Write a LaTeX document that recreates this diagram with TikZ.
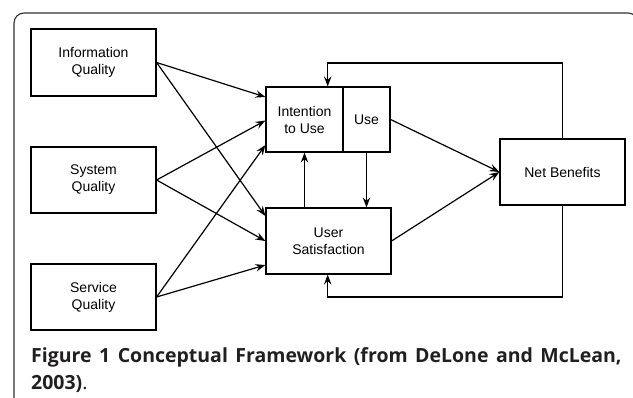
\documentclass[tikz,border=0pt]{standalone}
\usepackage{fontspec}
\setmainfont{Liberation Sans}
\newfontfamily\capfont{Open Sans}
\usetikzlibrary{arrows.meta}
\definecolor{captxt}{HTML}{231F20}
\begin{document}
\begin{tikzpicture}[x=1pt,y=-1pt,
  box/.style={draw,line width=1.2pt,inner sep=0pt,align=center,
    font=\fontsize{14}{17}\selectfont},
  arr/.style={line width=1.2pt,-{Stealth[length=10pt,width=7.5pt,inset=3.5pt]}},
  lin/.style={line width=1.2pt}]
\useasboundingbox (0,0) rectangle (633,397);
\draw[line width=1.1pt,color=black!80,rounded corners=10pt] (14,420) -- (14,13) -- (638,13) -- (638,420);
\node[box,minimum width=125pt,minimum height=67pt] (iq) at (93.5,62.5) {Information\\Quality};
\node[box,minimum width=125pt,minimum height=66pt] (sq) at (93.5,180) {System\\Quality};
\node[box,minimum width=125pt,minimum height=66pt] (svq) at (93.5,297) {Service\\Quality};
\node[box,minimum width=77pt,minimum height=65pt] (intent) at (304.5,119.5) {Intention\\to Use};
\node[box,minimum width=47pt,minimum height=65pt] (use) at (366.5,119.5) {Use};
\node[box,minimum width=125pt,minimum height=66pt] (us) at (328.5,241) {User\\Satisfaction};
\node[box,minimum width=125pt,minimum height=66pt] (nb) at (562.5,172) {Net Benefits};
% inputs
\draw[arr] (iq.east) -- ([yshift=22.5pt]intent.west);
\draw[arr] (iq.east) -- ([yshift=25pt]us.west);
\draw[arr] (sq.east) -- ([yshift=-1pt]intent.west);
\draw[arr] (sq.east) -- (us.west);
\draw[arr] (svq.east) -- ([yshift=-25.5pt]intent.west);
\draw[arr] (svq.east) -- ([yshift=-24pt]us.west);
% between
\draw[arr] (intent.south |- us.north) -- (intent.south);
\draw[arr] (use.south) -- (use.south |- us.north);
\draw[arr] (use.east) -- (nb.west);
\draw[arr] (us.east) -- (nb.west);
% feedback
\coordinate (ft) at (327.7,63);
\coordinate (fb) at (327.7,297);
\draw[arr] (nb.north) |- (ft) -- (ft |- intent.north);
\draw[arr] (nb.south) |- (fb) -- (fb |- us.south);
% caption
\node[anchor=base west,inner sep=0pt,text=captxt,font=\capfont\fontsize{19.5}{26}\selectfont] (cap1) at (31,362.7)
  {\makebox[590.5pt][s]{\textbf{Figure 1 Conceptual Framework (from DeLone and McLean,}}};
\node[anchor=base west,inner sep=0pt,text=captxt,font=\capfont\fontsize{19.5}{26}\selectfont] (cap2) at (31,389)
  {\textbf{2003)}.};
\end{tikzpicture}
\end{document}
